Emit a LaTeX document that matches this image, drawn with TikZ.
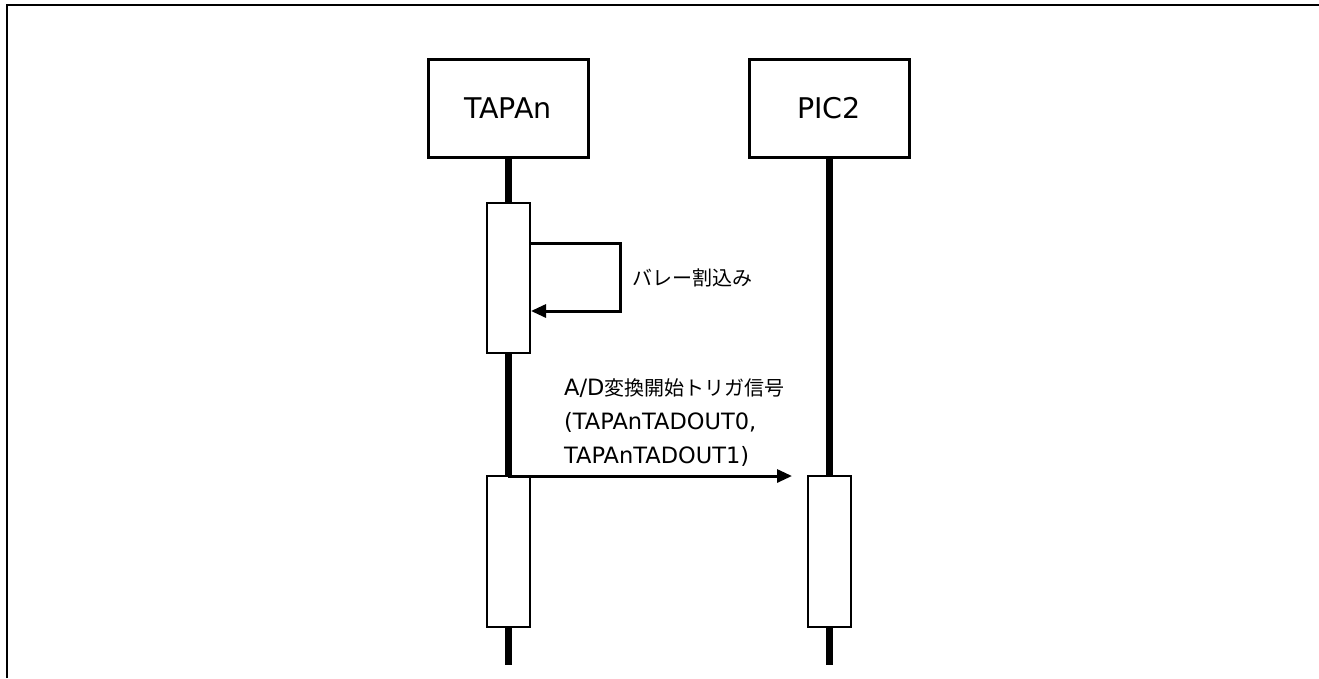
\documentclass[tikz,border=0pt]{standalone}
\usepackage{fontspec}
\setmainfont{DejaVu Sans}
\newfontfamily\jpfont{Noto Sans CJK JP}
\newcommand{\jptext}[1]{{\jpfont\fontsize{20}{34}\selectfont #1}}
\usetikzlibrary{arrows.meta, positioning}

\begin{document}
\begin{tikzpicture}[x=1pt, y=-1pt,
  head/.style={draw, line width=3pt, minimum width=160pt, minimum height=98pt,
    font=\fontsize{28.5}{34}\selectfont},
  life/.style={line width=7pt},
  actbox/.style={draw, fill=white, line width=2pt, minimum width=43pt, inner sep=0pt},
  msg/.style={line width=3pt, -{Triangle[length=15pt, width=13pt]}},
  lbl/.style={font=\fontsize{22.5}{34}\selectfont, align=left, inner sep=0pt}]

  \useasboundingbox (0,0) rectangle (1319,678);

  % --- frame (open at right and bottom) ---
  \draw[line width=2.5pt] (7,678) -- (7,5) -- (1319,5);

  % --- lifeline heads and lifelines ---
  \foreach \n/\x/\t in {tapan/508/TAPAn, pic/829/PIC2} {
    \node[head] (\n) at (\x,108) {\t};
    \coordinate (\n End) at (\x,665);
    \draw[life] (\n.south) -- (\n End);
  }

  % --- activation boxes ---
  \node[actbox, minimum height=150pt] (act1) at (508.5,278) {};
  \node[actbox, minimum height=151pt] (act2) at (508.5,551.5) {};
  \node[actbox, minimum height=151pt] (act3) at (829,551.5) {};

  % --- self call on TAPAn ---
  \coordinate (loopA) at (620,243);
  \coordinate (loopB) at (620,311);
  \draw[msg] (act1.east |- loopA) -- (loopA) -- (loopB) -- (act1.east |- loopB);
  \node[lbl, anchor=west] (loopLbl) at (632,278) {\jptext{バレー割込み}};

  % --- trigger TAPAn -> PIC2 ---
  \coordinate (trigEnd) at (792,476);
  \draw[msg] (tapan.south |- trigEnd) -- (trigEnd);
  \node[lbl, anchor=west] (trigLbl) at (564,423)
    {A/D\jptext{変換開始トリガ信号}\\(TAPAnTADOUT0,\\TAPAnTADOUT1)};

\end{tikzpicture}
\end{document}
